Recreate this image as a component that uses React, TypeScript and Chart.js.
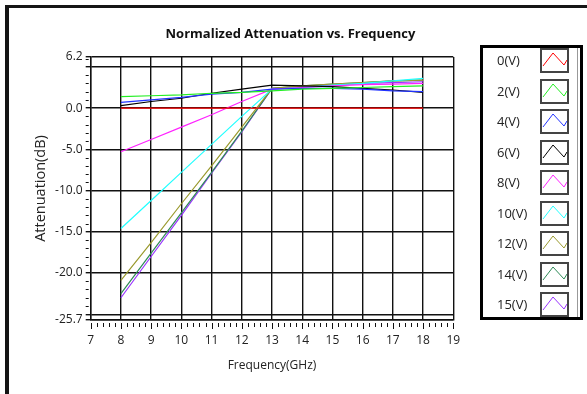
import React, { useEffect, useRef } from 'react';
import { Chart, registerables } from 'chart.js';

Chart.register(...registerables);

// ---- data ----
const frequencyGHz = [8, 9, 10, 11, 12, 13, 14, 15, 16, 17, 18];
const biasLabels = ['0(V)', '2(V)', '4(V)', '6(V)', '8(V)', '10(V)', '12(V)', '14(V)', '15(V)'];
const att0V = [0, 0, 0, 0, 0, 0, 0, 0, 0, 0, 0];
const att2V = [1.4, 1.5, 1.6, 1.8, 1.9, 2.1, 2.3, 2.4, 2.5, 2.6, 2.7];
const att4V = [0.7, 1.0, 1.3, 1.7, 1.9, 2.3, 2.4, 2.4, 2.3, 2.1, 2.0];
const att6V = [0.3, 0.8, 1.2, 1.8, 2.3, 2.8, 2.7, 2.6, 2.4, 2.2, 1.9];
const att8V = [-5.3, -3.8, -2.3, -0.8, 0.8, 2.3, 2.5, 2.7, 2.85, 2.9, 3.0];
const att10V = [-14.6, -11.2, -7.8, -4.4, -1.0, 2.3, 2.5, 2.8, 3.0, 3.3, 3.6];
const att12V = [-20.9, -16.3, -11.6, -7.0, -2.3, 2.4, 2.7, 2.9, 3.1, 3.3, 3.4];
const att14V = [-22.5, -17.6, -12.7, -7.8, -2.8, 2.4, 2.7, 2.9, 3.1, 3.3, 3.4];
const att15V = [-23.0, -18.0, -13.0, -7.9, -2.9, 2.4, 2.6, 2.8, 3.0, 3.1, 3.2];
const seriesValues = [att0V, att2V, att4V, att6V, att8V, att10V, att12V, att14V, att15V];
const seriesColors = ['#ff0000', '#22ee22', '#2233ff', '#000000', '#ff22ff', '#22ffff', '#9a9a2e', '#2e8b57', '#9933ff'];

const xMin = 7;
const xMax = 19;
const yMin = -25.7;
const yMax = 6.2;
const yTickValues = [-25.7, -25, -20, -15, -10, -5, 0, 5, 6.2];
const yTickLabels = ['-25.7', '', '-20.0', '-15.0', '-10.0', '-5.0', '0.0', '', '6.2'];
const xMinorStep = 0.2;
const yMinorStep = 1;

const FONT = "'Open Sans', 'Noto Sans', sans-serif";

const minorTicksPlugin = {
  id: 'minorTicks',
  afterDraw(chart: any) {
    const { ctx, chartArea, scales } = chart;
    const x = scales.x;
    const y = scales.y;
    ctx.save();
    ctx.strokeStyle = '#111';
    ctx.lineWidth = 1;
    ctx.beginPath();
    const nX = Math.round((xMax - xMin) / xMinorStep);
    for (let i = 0; i <= nX; i++) {
      const v = xMin + i * xMinorStep;
      const major = i % 5 === 0;
      const px = Math.round(x.getPixelForValue(v)) + 0.5;
      ctx.moveTo(px, chartArea.bottom + 3);
      ctx.lineTo(px, chartArea.bottom + (major ? 9 : 7));
    }
    for (let v = Math.ceil(yMin); v <= Math.floor(yMax); v += yMinorStep) {
      if (v % 5 === 0) continue;
      const py = Math.round(y.getPixelForValue(v)) + 0.5;
      ctx.moveTo(chartArea.left - 5, py);
      ctx.lineTo(chartArea.left - 2, py);
    }
    ctx.stroke();
    ctx.restore();
  },
};

function LegendIcon({ color }: { color: string }) {
  return (
    <svg width={25} height={21} style={{ display: 'block' }}>
      <polyline points="1,16 11,3 22,15 25,10" fill="none" stroke={color} strokeWidth={1} />
    </svg>
  );
}

export default function App() {
  const canvasRef = useRef<HTMLCanvasElement>(null);

  useEffect(() => {
    document.body.style.margin = '0';
    const canvas = canvasRef.current;
    if (!canvas) return;
    const datasets = seriesValues.map((vals, i) => ({
      label: biasLabels[i],
      data: vals.map((v, j) => ({ x: frequencyGHz[j], y: v })),
      borderColor: seriesColors[i],
      backgroundColor: seriesColors[i],
      borderWidth: 1.2,
      pointRadius: 0,
      tension: 0,
      fill: false,
    }));
    const chart = new Chart(canvas, {
      type: 'line',
      data: { datasets },
      plugins: [minorTicksPlugin],
      options: {
        responsive: false,
        animation: false,
        layout: { padding: { left: 0, right: 133.7, top: 57, bottom: 0 } },
        plugins: {
          legend: { display: false },
          title: { display: false },
          tooltip: { enabled: false },
        },
        scales: {
          x: {
            type: 'linear',
            min: xMin,
            max: xMax,
            afterFit: (s: any) => { s.height = 74; },
            ticks: { stepSize: 1, color: '#222', font: { family: FONT, size: 12 }, padding: 13, maxRotation: 0 },
            grid: { color: '#111', lineWidth: 1.4, drawTicks: false },
            border: { display: true, color: '#111', width: 1.4 },
            title: { display: true, text: 'Frequency(GHz)', color: '#222', font: { family: FONT, size: 12 }, padding: { top: 0, bottom: 21 } },
          },
          y: {
            type: 'linear',
            min: yMin,
            max: yMax,
            afterFit: (s: any) => { s.width = 90.7; },
            afterBuildTicks: (s: any) => { s.ticks = yTickValues.map((v) => ({ value: v })); },
            ticks: {
              color: '#222',
              font: { family: FONT, size: 12 },
              padding: 3,
              callback: (value: any) => {
                const idx = yTickValues.indexOf(Number(value));
                return idx >= 0 ? yTickLabels[idx] : '';
              },
            },
            grid: { color: '#111', lineWidth: 1.4, drawTicks: true, tickLength: 5, tickColor: '#111' },
            border: { display: true, color: '#111', width: 1.4 },
            title: { display: true, text: 'Attenuation(dB)', color: '#222', font: { family: FONT, size: 14.5 }, padding: { top: 32, bottom: 0 } },
          },
        },
      },
    } as any);
    return () => chart.destroy();
  }, []);

  return (
    <div style={{ position: 'relative', width: 587, height: 394, background: '#fff', overflow: 'hidden', fontFamily: FONT }}>
      <canvas ref={canvasRef} width={587} height={394} style={{ position: 'absolute', left: 0, top: 0 }} />
      <div style={{ position: 'absolute', left: 5, top: 5, right: 0, bottom: 0, borderLeft: '4px solid #151515', borderTop: '3px solid #151515', pointerEvents: 'none' }} />
      <div style={{ position: 'absolute', left: 0, top: 24, width: 581, textAlign: 'center', fontWeight: 700, fontSize: 13, lineHeight: '18px', color: '#111' }}>
        Normalized Attenuation vs. Frequency
      </div>
      <div style={{ position: 'absolute', left: 480, top: 45, width: 103, height: 275, border: '3px solid #000', boxSizing: 'border-box', background: '#fff' }}>
        <div style={{ position: 'absolute', right: 2, top: 0, bottom: 0, width: 1, background: '#999' }} />
        {biasLabels.map((lab, i) => (
          <div key={lab} style={{ position: 'absolute', left: 0, top: 12.7 + 30.5 * i - 12.5, height: 25, width: 97 }}>
            <div style={{ position: 'absolute', left: 14, top: 0, lineHeight: '25px', fontSize: 13, color: '#222' }}>{lab}</div>
            <div style={{ position: 'absolute', left: 57, top: 0, width: 29, height: 25, border: '2px solid #444', boxSizing: 'border-box', background: '#fff' }}>
              <LegendIcon color={seriesColors[i]} />
            </div>
          </div>
        ))}
      </div>
    </div>
  );
}
